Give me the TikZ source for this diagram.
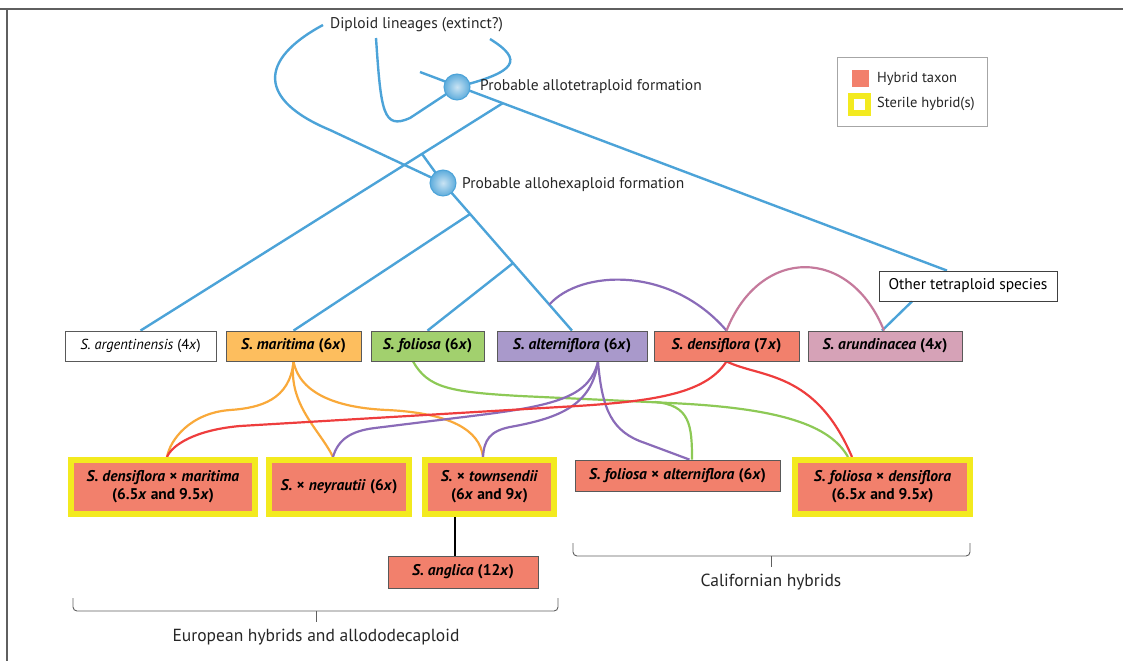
\documentclass[tikz,border=0pt]{standalone}
\usepackage{fontspec}
\setmainfont{PT Sans}
\usetikzlibrary{calc,backgrounds}
\definecolor{lineblue}{RGB}{76,163,216}
\definecolor{hybrid}{RGB}{242,128,108}
\definecolor{sterileyellow}{RGB}{243,234,31}
\definecolor{maritimafill}{RGB}{253,190,94}
\definecolor{foliosafill}{RGB}{162,208,110}
\definecolor{alternifill}{RGB}{169,153,203}
\definecolor{arundifill}{RGB}{214,162,183}
\definecolor{maritimaline}{RGB}{249,169,58}
\definecolor{foliosaline}{RGB}{141,201,86}
\definecolor{alterniline}{RGB}{138,107,184}
\definecolor{densiline}{RGB}{238,61,61}
\definecolor{arundiline}{RGB}{197,122,156}
\definecolor{framegray}{RGB}{95,95,95}
\newcommand{\taxname}[1]{\textbf{\textit{#1}}}
\newcommand{\ploid}[1]{\textbf{(#1\textit{x})}}
\begin{document}
\begin{tikzpicture}[x=1pt,y=-1pt,
	taxon/.style={draw=black!65,line width=0.8pt,minimum height=30pt,inner sep=0pt,font=\fontsize{15.5}{17}\selectfont},
	sterile/.style={draw=sterileyellow,line width=6pt,fill=hybrid,minimum height=54pt,inner sep=0pt,align=center,font=\fontsize{15.5}{18}\selectfont},
	label/.style={inner sep=0pt,font=\fontsize{15.5}{17}\selectfont,text=black!85},
	formation/.style={circle,draw=lineblue,line width=1pt,inner color=lineblue!30,outer color=lineblue!90,minimum size=26pt,inner sep=0pt},
	lineage/.style={draw=lineblue,line width=2.4pt},
	link/.style={line width=2.2pt},
	bracket/.style={draw=framegray,line width=0.9pt,rounded corners=4pt}]
	\useasboundingbox (0,0) rectangle (1123,661);
	
	% frame
	\draw[framegray,line width=1.5pt] (0,9) -- (1123,9);
	\draw[framegray,line width=1.5pt] (7,9) -- (7,661);
	
	% top of the tree
	\node[label,anchor=west] (dip) at (330,25) {Diploid lineages (extinct?)};
	\node[formation] (tet) at (457,87) {};
	\node[label,anchor=west] (tetlab) at (480,87) {Probable allotetraploid formation};
	\node[formation] (hex) at (443,183) {};
	\node[label,anchor=west] (hexlab) at (462,185) {Probable allohexaploid formation};
	\coordinate (dipB) at (376,38);
	\coordinate (dipC) at (490,39);
	\coordinate (d0) at (420,72);
	
	% legend
	\node[draw=black!35,line width=0.8pt,minimum width=150pt,minimum height=69pt] (legend) at (912,91.5) {};
	\node[fill=hybrid,minimum size=17pt,inner sep=0pt] (keyhyb) at (860,78.5) {};
	\node[label,anchor=west,font=\fontsize{14.5}{16}\selectfont] (keyhyblab) at (877,79) {Hybrid taxon};
	\node[draw=sterileyellow,line width=6pt,fill=white,minimum size=17pt,inner sep=0pt] (keyster) at (859.5,104.5) {};
	\node[label,anchor=west,font=\fontsize{14.5}{16}\selectfont] (keysterlab) at (877,104) {Sterile hybrid(s)};
	
	% parent species
	\node[taxon,draw=black!75,minimum width=178pt] (oth) at (968,286) {Other tetraploid species};
	\node[taxon,fill=white,minimum width=151pt,font=\fontsize{14.5}{16}\selectfont] (arg) at (140.5,346) {\textit{S. argentinensis} (4\textit{x})};
	\node[taxon,fill=maritimafill,minimum width=135pt] (mar) at (293.5,346) {\taxname{S. maritima} \ploid{6}};
	\node[taxon,fill=foliosafill,minimum width=113pt] (fol) at (427.5,346) {\taxname{S. foliosa} \ploid{6}};
	\node[taxon,fill=alternifill,minimum width=150pt] (alt) at (572,346) {\taxname{S. alterniflora} \ploid{6}};
	\node[taxon,fill=hybrid,minimum width=145pt] (den) at (726.5,346) {\taxname{S. densiflora} \ploid{7}};
	\node[taxon,fill=arundifill,minimum width=154pt] (aru) at (885,346) {\taxname{S. arundinacea} \ploid{4}};
	
	% hybrids
	\node[sterile,minimum width=184pt] (dm) at (163,487) {\taxname{S. densiflora} \textbf{×} \taxname{maritima}\\ \textbf{(6.5\textit{x} and 9.5\textit{x})}};
	\node[sterile,minimum width=140pt] (ney) at (339,487) {\taxname{S.} \textbf{×} \taxname{neyrautii} \ploid{6}};
	\node[sterile,minimum width=129pt] (tow) at (489.5,487) {\taxname{S.} \textbf{×} \taxname{townsendii}\\ \textbf{(6\textit{x} and 9\textit{x})}};
	\node[taxon,fill=hybrid,minimum width=205pt,minimum height=31pt] (fa) at (677.5,475.5) {\taxname{S. foliosa} \textbf{×} \taxname{alterniflora} \ploid{6}};
	\node[sterile,minimum width=175pt] (fd) at (882.5,487) {\taxname{S. foliosa} \textbf{×} \taxname{densiflora}\\ \textbf{(6.5\textit{x} and 9.5\textit{x})}};
	\node[taxon,fill=hybrid,minimum width=150pt,minimum height=32pt] (ang) at (463,572) {\taxname{S. anglica} \textbf{(12\textit{x})}};
	
	% groups
	\draw[bracket] (73,598) -- (73,611) -- (558,611) -- (558,598);
	\draw[framegray,line width=0.9pt] (316,611) -- (316,622);
	\node[label,font=\fontsize{17.5}{19}\selectfont] (eur) at (316,637) {European hybrids and allododecaploid};
	\draw[bracket] (573,543) -- (573,556) -- (970,556) -- (970,543);
	\draw[framegray,line width=0.9pt] (771,556) -- (771,567);
	\node[label,font=\fontsize{17.5}{19}\selectfont] (cal) at (771,582) {Californian hybrids};
	
	\begin{scope}[on background layer]
		% lineages
		\coordinate (othtop) at ([xshift=-21pt]oth.north);
		\coordinate (brE) at ($(d0)!0.157!(othtop)$);
		\coordinate (brF) at ($(brE)!0.223!(arg.north)$);
		\coordinate (brM) at ($(hex.center)!0.21!(alt.north)$);
		\coordinate (brG) at ($(hex.center)!0.543!(alt.north)$);
		\coordinate (brP) at ($(hex.center)!0.824!(alt.north)$);
		\draw[lineage] ([xshift=-7pt]dip.west) .. controls (258,60) and (258,100) .. (330,130) -- (hex.center) -- (alt.north);
		\draw[lineage] (dipB) .. controls (381,112) and (383,130) .. (410,118) -- (tet.center);
		\draw[lineage] (dipC) .. controls (524,60) and (517,72) .. (tet.center);
		\draw[lineage] (d0) -- (othtop);
		\draw[lineage] (brE) -- (arg.north);
		\draw[lineage] (brF) -- (hex.center);
		\draw[lineage] (brM) -- (mar.north);
		\draw[lineage] (brG) -- (fol.north);
		\draw[lineage] ([xshift=-56pt]oth.south) -- ([xshift=-3pt]aru.north);
		\draw[link,alterniline] (brP) .. controls (580,270) and (670,265) .. (den.north);
		\draw[link,arundiline] (den.north) .. controls (760,246) and (850,246) .. ([xshift=-1pt]aru.north);
		
		% maritima
		\draw[link,maritimaline] (mar.south) .. controls (290,400) and (260,408) .. (230,410) .. controls (190,413) and (170,440) .. ([xshift=4pt]dm.north);
		\draw[link,maritimaline] (mar.south) .. controls (288,405) and (320,430) .. ([xshift=-6pt]ney.north);
		\draw[link,maritimaline] (mar.south) .. controls (300,395) and (340,408) .. (387,410) .. controls (450,413) and (480,430) .. ([xshift=-6.5pt]tow.north);
		% foliosa
		\draw[link,foliosaline] ([xshift=-14.5pt]fol.south) .. controls (428,388) and (450,392) .. (520,396) -- (670,403) .. controls (780,408) and (830,425) .. ([xshift=-34.5pt]fd.north);
		\draw[link,foliosaline] (655,402) .. controls (690,405) and (692,425) .. ([xshift=14.5pt]fa.north);
		% alterniflora
		\draw[link,alterniline] ([xshift=26pt]alt.south) .. controls (590,395) and (560,405) .. (480,415) -- (375,428) .. controls (350,431) and (338,440) .. ([xshift=-6pt]ney.north);
		\draw[link,alterniline] ([xshift=26pt]alt.south) .. controls (592,405) and (560,418) .. (510,427) .. controls (490,431) and (484,440) .. ([xshift=-6.5pt]tow.north);
		\draw[link,alterniline] ([xshift=26pt]alt.south) .. controls (602,410) and (612,432) .. (645,443) -- ([xshift=12pt]fa.north);
		% densiflora
		\draw[link,densiline] (den.south) .. controls (705,395) and (650,402) .. (560,407) -- (240,426) .. controls (195,430) and (172,445) .. ([xshift=4pt]dm.north);
		\draw[link,densiline] (den.south) .. controls (760,378) and (815,370) .. ([xshift=-30.5pt]fd.north);
		% anglica
		\draw[line width=2.2pt] ([xshift=-34.5pt]tow.south) -- ([xshift=-8pt]ang.north);
	\end{scope}
\end{tikzpicture}
\end{document}
